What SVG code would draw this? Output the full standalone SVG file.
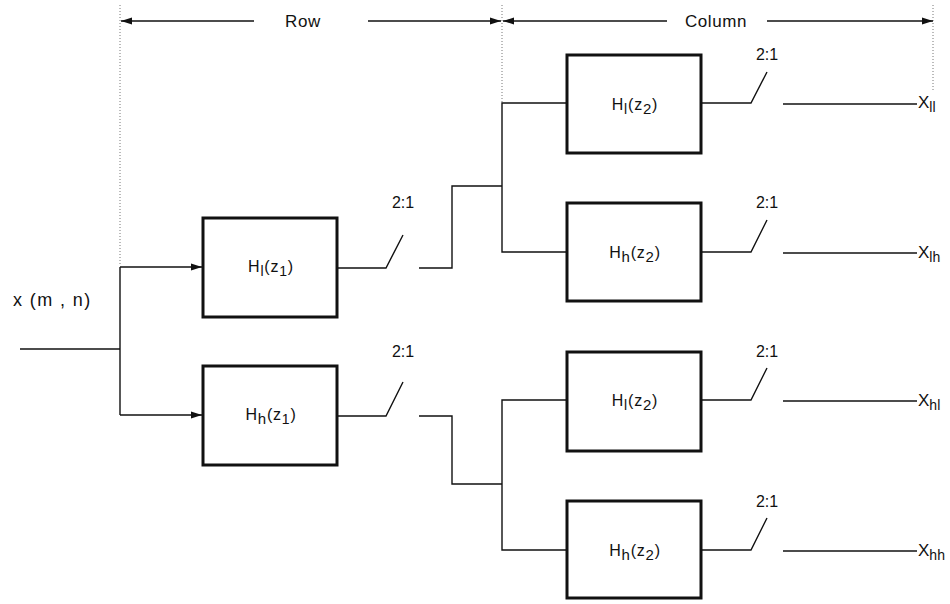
<svg xmlns="http://www.w3.org/2000/svg" width="950" height="604" viewBox="0 0 950 604">
<style>
.bg{fill:#fff}
.box{fill:#fff;stroke:#111;stroke-width:3}
.ln{fill:none;stroke:#111;stroke-width:1.4}
.dot{fill:none;stroke:#777;stroke-width:1;stroke-dasharray:1,2}
.t{font-family:"Liberation Sans",Arial,sans-serif;font-size:16px;letter-spacing:0.8px;fill:#111}
.lab{font-family:"Liberation Sans",Arial,sans-serif;font-size:16px;fill:#111}
.hd{font-family:"Liberation Sans",Arial,sans-serif;font-size:17px;letter-spacing:0.6px;fill:#111}
.x{font-family:"Liberation Sans",Arial,sans-serif;font-size:17px;fill:#111}
.xin{font-family:"Liberation Sans",Arial,sans-serif;font-size:18px;letter-spacing:1.4px;fill:#111}
</style>
<defs>
<marker id="arr" markerWidth="12" markerHeight="8" refX="11" refY="4" orient="auto" markerUnits="userSpaceOnUse">
<path d="M0,0.5 L11,4 L0,7.5 z" fill="#111"/>
</marker>
</defs>
<rect class="bg" x="0" y="0" width="950" height="604"/>
<g id="guides">
<line class="dot" x1="120" y1="5" x2="120" y2="266"/>
<line class="dot" x1="502" y1="5" x2="502" y2="103"/>
<line class="dot" x1="933" y1="5" x2="933" y2="92"/>
</g>
<g id="connectors">
<line class="ln" x1="254" y1="21" x2="121" y2="21" marker-end="url(#arr)"/>
<line class="ln" x1="368" y1="21" x2="501" y2="21" marker-end="url(#arr)"/>
<line class="ln" x1="667" y1="21" x2="503" y2="21" marker-end="url(#arr)"/>
<line class="ln" x1="767" y1="21" x2="933" y2="21" marker-end="url(#arr)"/>
<polyline class="ln" points="20,349 120,349"/>
<polyline class="ln" points="120,267 120,415"/>
<line class="ln" x1="120" y1="267" x2="202" y2="267" marker-end="url(#arr)"/>
<line class="ln" x1="120" y1="415" x2="202" y2="415" marker-end="url(#arr)"/>
<polyline class="ln" points="337,268 386,268 403,235"/>
<polyline class="ln" points="419,268 452,268 452,186 502,186"/>
<polyline class="ln" points="337,416 386,416 403,382"/>
<polyline class="ln" points="419,416 452,416 452,484 502,484"/>
<polyline class="ln" points="567,103 502,103 502,252 567,252"/>
<polyline class="ln" points="567,400 502,400 502,550 567,550"/>
<polyline class="ln" points="701,103 751,103 767,72"/>
<polyline class="ln" points="701,252 751,252 767,220"/>
<polyline class="ln" points="701,400 751,400 767,368"/>
<polyline class="ln" points="701,550 751,550 767,518"/>
<line class="ln" x1="783" y1="104" x2="917" y2="104"/>
<line class="ln" x1="783" y1="253" x2="917" y2="253"/>
<line class="ln" x1="783" y1="401" x2="917" y2="401"/>
<line class="ln" x1="783" y1="551" x2="917" y2="551"/>
</g>
<g id="labels">
<text class="hd" x="303" y="27" text-anchor="middle">Row</text>
<text class="hd" x="716" y="27" text-anchor="middle">Column</text>
<text class="xin" x="13" y="306">x (m , n)</text>
<text class="lab" x="403" y="208" text-anchor="middle">2:1</text>
<text class="lab" x="403" y="357" text-anchor="middle">2:1</text>
<text class="lab" x="767" y="60" text-anchor="middle">2:1</text>
<text class="lab" x="767" y="208" text-anchor="middle">2:1</text>
<text class="lab" x="767" y="357" text-anchor="middle">2:1</text>
<text class="lab" x="767" y="507" text-anchor="middle">2:1</text>
</g>
<g id="n-hl1">
<rect class="box" x="203" y="218" width="134" height="99"/>
<text class="t" x="271" y="272" text-anchor="middle">H<tspan font-size="14" dy="4">l</tspan><tspan dy="-4">(z</tspan><tspan font-size="14" dy="4">1</tspan><tspan dy="-4">)</tspan></text>
</g>
<g id="n-hh1">
<rect class="box" x="203" y="366" width="134" height="99"/>
<text class="t" x="271" y="420" text-anchor="middle">H<tspan font-size="15" dy="4">h</tspan><tspan dy="-4">(z</tspan><tspan font-size="14" dy="4">1</tspan><tspan dy="-4">)</tspan></text>
</g>
<g id="n-hl2a">
<rect class="box" x="567" y="55" width="134" height="98"/>
<text class="t" x="635" y="110" text-anchor="middle">H<tspan font-size="14" dy="4">l</tspan><tspan dy="-4">(z</tspan><tspan font-size="15" dy="4">2</tspan><tspan dy="-4">)</tspan></text>
</g>
<g id="n-hh2a">
<rect class="box" x="567" y="203" width="134" height="98"/>
<text class="t" x="635" y="258" text-anchor="middle">H<tspan font-size="15" dy="4">h</tspan><tspan dy="-4">(z</tspan><tspan font-size="15" dy="4">2</tspan><tspan dy="-4">)</tspan></text>
</g>
<g id="n-hl2b">
<rect class="box" x="567" y="352" width="134" height="99"/>
<text class="t" x="635" y="406" text-anchor="middle">H<tspan font-size="14" dy="4">l</tspan><tspan dy="-4">(z</tspan><tspan font-size="15" dy="4">2</tspan><tspan dy="-4">)</tspan></text>
</g>
<g id="n-hh2b">
<rect class="box" x="567" y="501" width="134" height="97"/>
<text class="t" x="635" y="556" text-anchor="middle">H<tspan font-size="15" dy="4">h</tspan><tspan dy="-4">(z</tspan><tspan font-size="15" dy="4">2</tspan><tspan dy="-4">)</tspan></text>
</g>
<g id="outputs">
<text class="x" x="918" y="108">X<tspan font-size="14" dy="4">ll</tspan></text>
<text class="x" x="918" y="258">X<tspan font-size="14" dy="4">lh</tspan></text>
<text class="x" x="918" y="406">X<tspan font-size="14" dy="4">hl</tspan></text>
<text class="x" x="918" y="556">X<tspan font-size="14" dy="4">hh</tspan></text>
</g>
</svg>
